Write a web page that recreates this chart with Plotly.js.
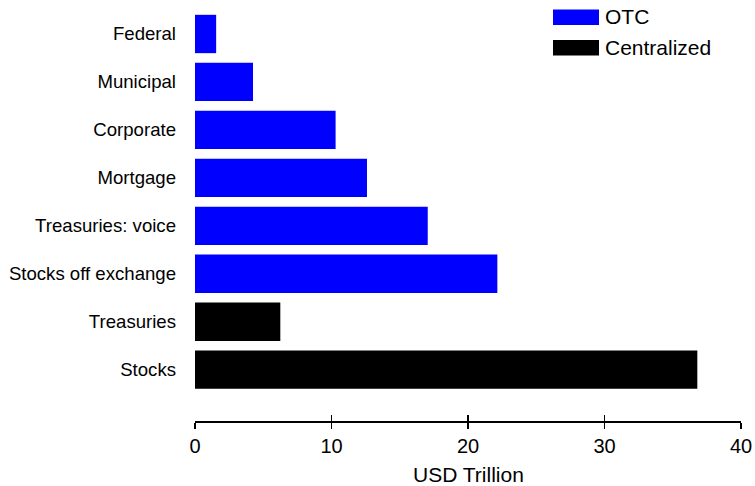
<!DOCTYPE html>
<html>
<head>
<meta charset="utf-8">
<script src="https://cdn.plot.ly/plotly-3.0.1.min.js"></script>
<style>html,body{margin:0;padding:0;background:#fff;}#chart{width:755px;height:486px;}</style>
</head>
<body>
<div id="chart"></div>
<script>
// Categories, top to bottom as displayed
const categories = ["Federal", "Municipal", "Corporate", "Mortgage", "Treasuries: voice", "Stocks off exchange", "Treasuries", "Stocks"];
const otcCategories = ["Federal", "Municipal", "Corporate", "Mortgage", "Treasuries: voice", "Stocks off exchange"];
const otcValues = [1.55, 4.25, 10.3, 12.6, 17.05, 22.15];
const centralCategories = ["Treasuries", "Stocks"];
const centralValues = [6.25, 36.8];
const seriesNames = ["OTC", "Centralized"];
const seriesColors = ["#0000ff", "#000000"];
const xTicks = [0, 10, 20, 30, 40];
const xTitle = "USD Trillion";

const font = "Liberation Sans, Arial, Helvetica, sans-serif";

const traces = [
  {type: "bar", orientation: "h", name: seriesNames[0], y: otcCategories, x: otcValues,
   marker: {color: seriesColors[0]}, width: 0.8, showlegend: false, hoverinfo: "x+y"},
  {type: "bar", orientation: "h", name: seriesNames[1], y: centralCategories, x: centralValues,
   marker: {color: seriesColors[1]}, width: 0.8, showlegend: false, hoverinfo: "x+y"},
  // invisible trace to host the second x axis (inside tick marks)
  {type: "scatter", x: [], y: [], xaxis: "x2", yaxis: "y", showlegend: false, hoverinfo: "skip"}
];

// Legend built as layout decoration from series names / colors
const shapes = [];
const annotations = [];
seriesNames.forEach((name, i) => {
  const top = 9.5 + i * 30.5;
  shapes.push({type: "rect", xref: "paper", yref: "paper",
    x0: (553 - 195) / 546, x1: (599 - 195) / 546,
    y0: 1 - (top - 10) / 411, y1: 1 - (top + 15.5 - 10) / 411,
    fillcolor: seriesColors[i], line: {width: 0}});
  annotations.push({xref: "paper", yref: "paper", x: (603 - 195) / 546, y: 1 - (top + 7.5 - 10) / 411,
    xanchor: "left", yanchor: "middle", text: name, showarrow: false,
    font: {family: font, size: 21, color: "#000"}});
});
// x axis title placed as an annotation so it can sit lower than the margin allows
annotations.push({xref: "paper", yref: "paper", x: 0.5, y: 1 - (474.5 - 10) / 411,
  xanchor: "center", yanchor: "middle", text: xTitle, showarrow: false, borderpad: 0,
  font: {family: font, size: 21, color: "#000"}});

const layout = {
  width: 755, height: 486,
  margin: {l: 195, r: 14, t: 10, b: 65, pad: 0},
  paper_bgcolor: "#fff", plot_bgcolor: "#fff",
  barmode: "overlay",
  font: {family: font, color: "#000"},
  xaxis: {
    range: [0, 40], tickvals: xTicks, ticktext: xTicks.map(String),
    showgrid: false, zeroline: false, showline: true, linecolor: "#000", linewidth: 1.5,
    ticks: "outside", ticklen: 6, tickwidth: 1.5, tickcolor: "#000",
    tickfont: {family: font, size: 20, color: "#000"},
    automargin: false,
    fixedrange: true
  },
  xaxis2: {
    overlaying: "x", matches: "x", anchor: "y", side: "bottom",
    range: [0, 40], tickvals: xTicks, showticklabels: false,
    showgrid: false, zeroline: false, showline: false,
    ticks: "inside", ticklen: 6, tickwidth: 1.5, tickcolor: "#000"
  },
  yaxis: {
    type: "category", categoryorder: "array", categoryarray: categories,
    range: [8.07, -0.5],
    showgrid: false, zeroline: false, showline: false, ticks: "",
    ticklabelstandoff: 18,
    tickfont: {family: font, size: 18.6, color: "#000"},
    fixedrange: true
  },
  showlegend: false,
  shapes: shapes,
  annotations: annotations
};

Plotly.newPlot("chart", traces, layout, {displayModeBar: false, staticPlot: true});
</script>
</body>
</html>
